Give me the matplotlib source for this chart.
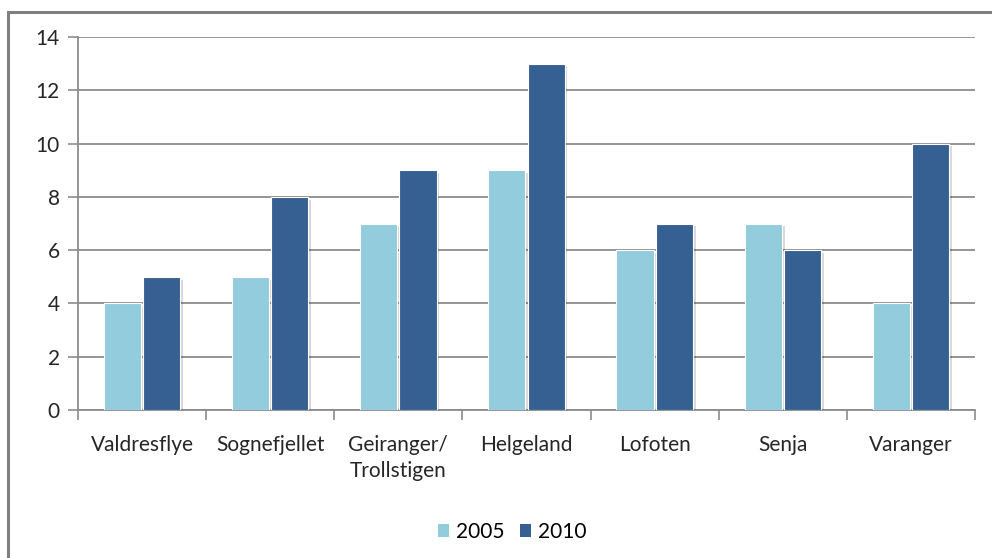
import matplotlib
matplotlib.use("Agg")
import matplotlib.pyplot as plt
import matplotlib.patheffects as pe
import numpy as np

plt.rcParams["font.family"] = ["Lato", "DejaVu Sans"]

CATEGORIES = ["Valdresflye", "Sognefjellet", "Geiranger/\nTrollstigen", "Helgeland",
              "Lofoten", "Senja", "Varanger"]
V2005 = [4, 5, 7, 9, 6, 7, 4]
V2010 = [5, 8, 9, 13, 7, 6, 10]
YTICKS = [0, 2, 4, 6, 8, 10, 12, 14]

C_LIGHT = "#93CDDD"
C_DARK = "#366092"
GRID = "#8C8C8C"
TXT = "#262626"
FS = 15

fig = plt.figure(figsize=(9.92, 5.58), dpi=100)
# chart frame (Excel style), cut on the right and bottom
fig.patches.append(plt.Rectangle((8 / 992, -0.05), 1.2, 1 - 12 / 558 + 0.05,
                                 transform=fig.transFigure, fill=False,
                                 edgecolor="#808080", linewidth=2.2))

ax = fig.add_axes([78 / 992, 1 - 410 / 558, (975 - 78) / 992, (410 - 37) / 558])

x = np.arange(len(CATEGORIES))
w = 0.29
shadow = [pe.SimplePatchShadow(offset=(2, -2), shadow_rgbFace="#000000", alpha=0.15),
          pe.Normal()]
b1 = ax.bar(x - w / 2 - 0.008, V2005, w, color=C_LIGHT, edgecolor="white",
            linewidth=0.8, label="2005", zorder=3, path_effects=shadow)
b2 = ax.bar(x + w / 2 + 0.008, V2010, w, color=C_DARK, edgecolor="white",
            linewidth=0.8, label="2010", zorder=3, path_effects=shadow)

ax.set_xlim(-0.5, len(CATEGORIES) - 0.5)
ax.set_ylim(0, 14)
ax.set_yticks(YTICKS)
ax.set_yticklabels([str(v) for v in YTICKS], fontsize=FS, color=TXT)
ax.yaxis.grid(True, color=GRID, linewidth=1.3, zorder=0)
ax.set_axisbelow(True)

# category ticks between groups, labels centered under groups
ax.set_xticks(np.arange(-0.5, len(CATEGORIES)), minor=False)
ax.set_xticklabels([])
ax.set_xticks(x, minor=True)
ax.set_xticklabels(CATEGORIES, minor=True, fontsize=FS, color=TXT,
                   linespacing=1.35)
ax.tick_params(axis="x", which="major", length=7, color=GRID, width=1.2)
ax.tick_params(axis="x", which="minor", length=0, pad=18)
ax.tick_params(axis="y", length=7, color=GRID, width=1.2, pad=6)

for s in ["top", "right"]:
    ax.spines[s].set_visible(False)
for s in ["left", "bottom"]:
    ax.spines[s].set_color(GRID)
    ax.spines[s].set_linewidth(1.3)

fig.legend(handles=[b1, b2], labels=["2005", "2010"], loc="center",
           bbox_to_anchor=(512 / 992, 1 - 532 / 558), ncol=2, frameon=False,
           fontsize=FS, handlelength=0.55, handleheight=0.55, handletextpad=0.3,
           columnspacing=0.75)
for h in fig.legends[0].legend_handles:
    h.set_path_effects([])
    h.set_edgecolor("none")

fig.savefig("out.png", dpi=100)
